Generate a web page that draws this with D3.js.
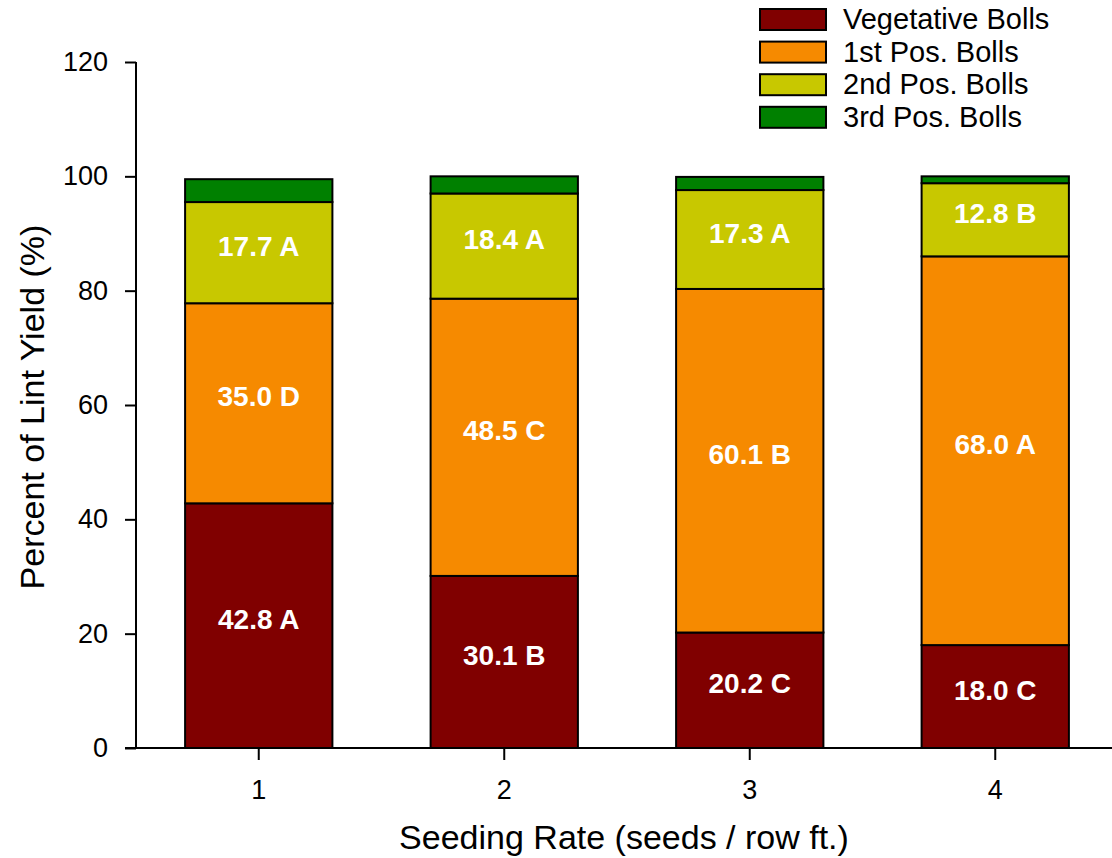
<!DOCTYPE html>
<html>
<head>
<meta charset="utf-8">
<script src="https://cdn.jsdelivr.net/npm/d3@7"></script>
<style>
  html, body { margin: 0; padding: 0; background: #fff; }
  text { font-family: "Liberation Sans", Arial, sans-serif; }
</style>
</head>
<body>
<svg id="chart" width="1112" height="858"></svg>
<script>
// Seeding rate categories
const rates = ["1", "2", "3", "4"];
// Percent of lint yield by boll position
const vegetative = [42.8, 30.1, 20.2, 18.0];
const firstPos   = [35.0, 48.5, 60.1, 68.0];
const secondPos  = [17.7, 18.4, 17.3, 12.8];
const thirdPos   = [4.0, 3.0, 2.3, 1.2];
// Mean separation letters
const vegLetters    = ["A", "B", "C", "C"];
const firstLetters  = ["D", "C", "B", "A"];
const secondLetters = ["A", "A", "A", "B"];
const seriesNames = ["Vegetative Bolls", "1st Pos. Bolls", "2nd Pos. Bolls", "3rd Pos. Bolls"];
const seriesColors = ["#800000", "#f68a00", "#c8c800", "#008000"];
const yTicks = [0, 20, 40, 60, 80, 100, 120];

const svg = d3.select("#chart");

const x = d3.scaleBand().domain(rates).range([136, 1118]).paddingInner(0.4).paddingOuter(0.2);
const y = d3.scaleLinear().domain([0, 120]).range([748, 62]);

const rows = rates.map((r, i) => ({
  rate: r,
  veg: vegetative[i], first: firstPos[i], second: secondPos[i], third: thirdPos[i]
}));
const keys = ["veg", "first", "second", "third"];
const stacked = d3.stack().keys(keys)(rows);

const layers = svg.append("g").selectAll("g")
  .data(stacked).join("g")
  .attr("fill", (d, i) => seriesColors[i]);

layers.selectAll("rect")
  .data(d => d)
  .join("rect")
  .attr("x", d => x(d.data.rate))
  .attr("width", x.bandwidth())
  .attr("y", d => y(d[1]))
  .attr("height", d => y(d[0]) - y(d[1]))
  .attr("stroke", "#000")
  .attr("stroke-width", 2);

// Value labels on the first three segments
const labelSets = [
  { layer: 0, values: vegetative, letters: vegLetters },
  { layer: 1, values: firstPos, letters: firstLetters },
  { layer: 2, values: secondPos, letters: secondLetters }
];
labelSets.forEach(set => {
  svg.append("g").selectAll("text")
    .data(stacked[set.layer])
    .join("text")
    .attr("x", d => x(d.data.rate) + x.bandwidth() / 2)
    .attr("y", d => (y(d[0]) + y(d[1])) / 2 + 3)
    .attr("text-anchor", "middle")
    .attr("fill", "#fff")
    .attr("font-weight", "bold")
    .attr("font-size", 28)
    .text((d, i) => set.values[i].toFixed(1) + " " + set.letters[i]);
});

// Y axis
const yAxis = svg.append("g")
  .attr("transform", "translate(136,0)")
  .call(d3.axisLeft(y).tickValues(yTicks).tickSize(11).tickPadding(17).tickFormat(d3.format("d")));
yAxis.select(".domain").attr("stroke", "#000").attr("stroke-width", 2).attr("d", "M0,62V748");
yAxis.selectAll(".tick line").attr("stroke", "#000").attr("stroke-width", 2);
yAxis.selectAll(".tick text").attr("font-size", 27).attr("fill", "#000")
  .style("font-family", "'Liberation Sans', Arial, sans-serif");

// X axis
const xAxis = svg.append("g")
  .attr("transform", "translate(0,748)")
  .call(d3.axisBottom(x).tickSize(12).tickPadding(20));
xAxis.select(".domain").attr("stroke", "#000").attr("stroke-width", 2).attr("d", "M125,0H1112");
xAxis.selectAll(".tick line").attr("stroke", "#000").attr("stroke-width", 2);
xAxis.selectAll(".tick text").attr("font-size", 27).attr("fill", "#000")
  .style("font-family", "'Liberation Sans', Arial, sans-serif");

// Axis titles
svg.append("text")
  .attr("x", 624).attr("y", 849)
  .attr("text-anchor", "middle")
  .attr("font-size", 34)
  .text("Seeding Rate (seeds / row ft.)");

svg.append("text")
  .attr("transform", "translate(44,407) rotate(-90)")
  .attr("text-anchor", "middle")
  .attr("font-size", 34)
  .text("Percent of Lint Yield (%)");

// Legend
const legend = svg.append("g").attr("transform", "translate(760,9)");
const entry = legend.selectAll("g").data(seriesNames).join("g")
  .attr("transform", (d, i) => `translate(0,${i * 32.6})`);
entry.append("rect")
  .attr("width", 66).attr("height", 21)
  .attr("fill", (d, i) => seriesColors[i])
  .attr("stroke", "#000").attr("stroke-width", 2);
entry.append("text")
  .attr("x", 83).attr("y", 20)
  .attr("font-size", 29)
  .text(d => d);
</script>
</body>
</html>
